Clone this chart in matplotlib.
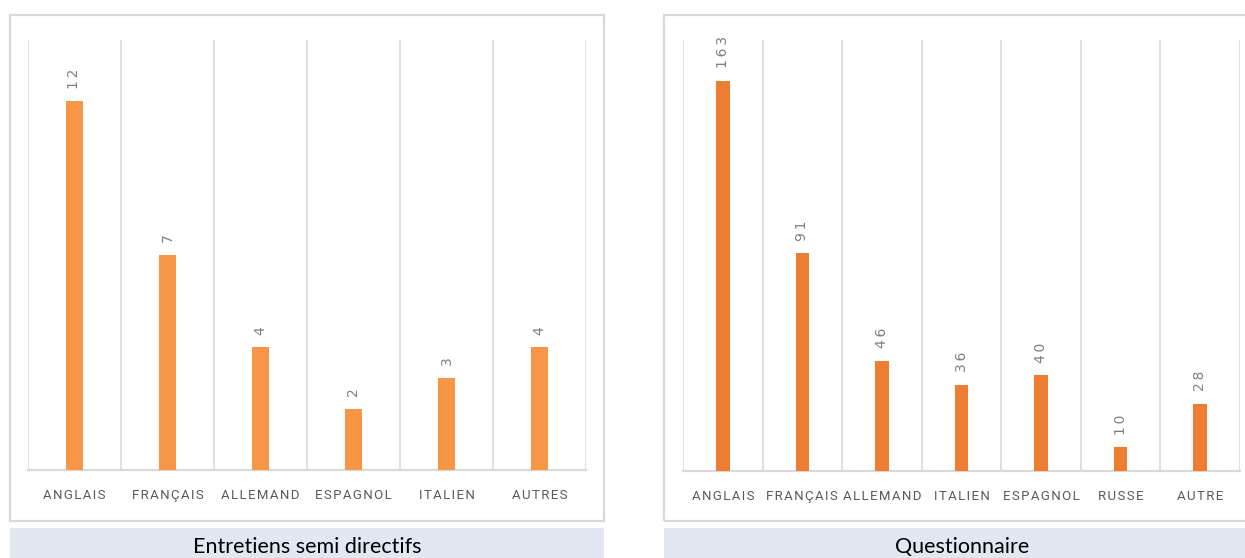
import matplotlib
matplotlib.use('Agg')
import matplotlib.pyplot as plt
from matplotlib.patches import Rectangle
import numpy as np

W, H = 1245, 558

# data
left_cats = ['ANGLAIS', 'FRANÇAIS', 'ALLEMAND', 'ESPAGNOL', 'ITALIEN', 'AUTRES']
left_vals = [12, 7, 4, 2, 3, 4]
left_title = 'Entretiens semi directifs'

right_cats = ['ANGLAIS', 'FRANÇAIS', 'ALLEMAND', 'ITALIEN', 'ESPAGNOL', 'RUSSE', 'AUTRE']
right_vals = [163, 91, 46, 36, 40, 10, 28]
right_title = 'Questionnaire'

GRID = '#d9d9d9'
TXT = '#595959'
LBL_FONT = ['Roboto', 'DejaVu Sans']


def spaced(s, sep='\u200a'):
    return sep.join(s)


def px_rect(x0, y0, x1, y1):
    # pixel box (top-left origin) -> figure fraction
    return x0 / W, 1 - y1 / H, (x1 - x0) / W, (y1 - y0) / H


def draw_panel(fig, box, band, axpos, cats, vals, ymax, color, barw, title):
    bx, by, bw, bh = px_rect(*box)
    fig.patches.append(Rectangle((bx, by), bw, bh, transform=fig.transFigure,
                                 facecolor='none', edgecolor=GRID, linewidth=1.6, zorder=-1))
    cx, cy, cw, ch = px_rect(*band)
    fig.patches.append(Rectangle((cx, cy), cw, ch, transform=fig.transFigure,
                                 facecolor='#e3e7f2', edgecolor='none', zorder=-1))
    fig.text(cx + cw / 2, 1 - 547 / H, title, ha='center', va='center',
             fontsize=15.5, family=['Lato', 'DejaVu Sans'], color='black')

    ax = fig.add_axes(px_rect(*axpos))
    ax.patch.set_alpha(0)
    x = np.arange(len(cats))
    bars = ax.bar(x, vals, width=barw, color=color, zorder=3)
    ax.set_xlim(-0.5, len(cats) - 0.5)
    ax.set_ylim(0, ymax)
    for b, v in zip(bars, vals):
        ax.annotate(spaced(str(v), '\u2009'), (b.get_x() + b.get_width() / 2, b.get_height()),
                    xytext=(0, 9), textcoords='offset points', rotation=90,
                    ha='center', va='bottom', fontsize=10, color='#7f7f7f',
                    family=['DejaVu Sans'])
    ax.set_xticks(x)
    ax.set_xticklabels([spaced(c) for c in cats], fontsize=9.5, color=TXT, family=LBL_FONT)
    ax.set_xticks(np.arange(len(cats) + 1) - 0.5, minor=True)
    ax.tick_params(axis='x', which='both', length=0, pad=14)
    ax.set_yticks([])
    ax.grid(axis='x', which='minor', color=GRID, linewidth=1.2, zorder=0)
    ax.grid(axis='x', which='major', visible=False)
    for s in ['top', 'left', 'right']:
        ax.spines[s].set_visible(False)
    ax.spines['bottom'].set_color(GRID)
    ax.spines['bottom'].set_linewidth(1.6)
    return ax


fig = plt.figure(figsize=(W / 100, H / 100), dpi=100)

draw_panel(fig, (10, 15, 604, 521), (10, 528, 604, 560), (28, 40, 586, 470),
           left_cats, left_vals, 14, '#f79646', 0.18, left_title)
draw_panel(fig, (664, 15, 1260, 521), (664, 528, 1260, 560), (683, 40, 1240, 471),
           right_cats, right_vals, 180, '#ed7d31', 0.17, right_title)

fig.savefig('out.png', dpi=100)
